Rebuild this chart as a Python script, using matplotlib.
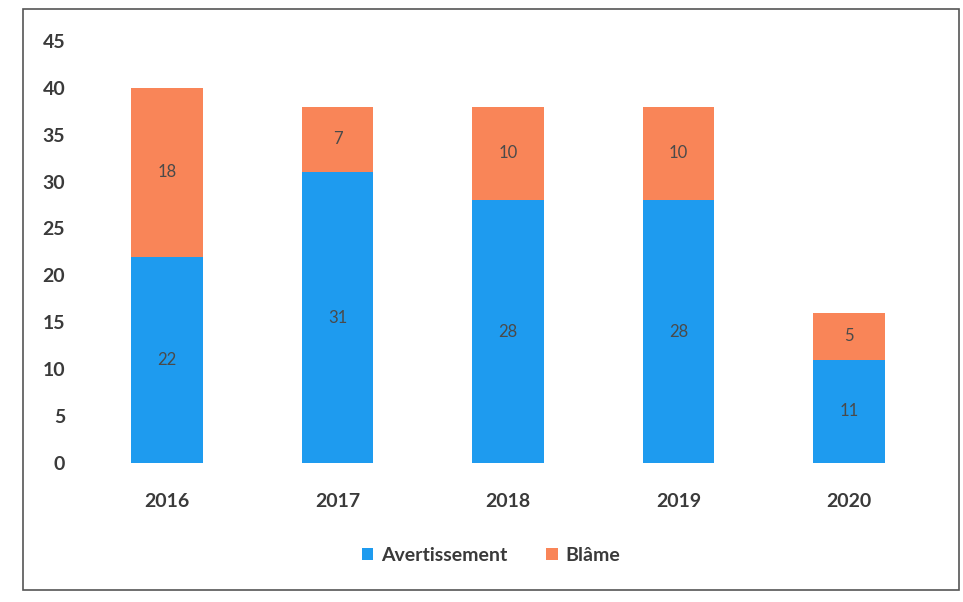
import matplotlib
matplotlib.use("Agg")
import matplotlib.pyplot as plt
from matplotlib.patches import Rectangle

years = ["2016", "2017", "2018", "2019", "2020"]
avertissement = [22, 31, 28, 28, 11]
blame = [18, 7, 10, 10, 5]
yticks = [0, 5, 10, 15, 20, 25, 30, 35, 40, 45]

blue = "#1E9BEF"
orange = "#F98558"
txt = "#3A3A3A"

plt.rcParams['font.family'] = ['Lato', 'DejaVu Sans']

fig = plt.figure(figsize=(9.63, 6.02), dpi=100)
fig.patches.append(Rectangle((0.024, 0.02), 0.972, 0.965, transform=fig.transFigure,
                             fill=False, edgecolor="#555555", linewidth=1.2))
ax = fig.add_axes([0.085, 0.231, 0.885, 0.701])

x = list(range(len(years)))
b1 = ax.bar(x, avertissement, width=0.42, color=blue, label="Avertissement")
b2 = ax.bar(x, blame, width=0.42, bottom=avertissement, color=orange, label="Blâme")
for rects in (b1, b2):
    ax.bar_label(rects, label_type="center", fontsize=12, color="#4a4a4a")

ax.set_xlim(-0.5, 4.5)
ax.set_ylim(0, 45)
ax.set_yticks(yticks)
ax.set_xticks(x)
ax.set_xticklabels(years)
ax.tick_params(axis="y", length=0, labelsize=14, colors=txt, pad=12)
ax.tick_params(axis="x", length=0, labelsize=14, colors=txt, pad=22)
for lab in ax.get_xticklabels() + ax.get_yticklabels():
    lab.set_fontweight("bold")
for s in ax.spines.values():
    s.set_visible(False)

leg = fig.legend(loc="center", bbox_to_anchor=(0.51, 0.078), ncol=2, frameon=False,
                 fontsize=14, handlelength=0.6, handleheight=0.6, columnspacing=2.0,
                 handletextpad=0.4)
for t in leg.get_texts():
    t.set_color(txt)
    t.set_fontweight("bold")

fig.savefig("out.png", dpi=100)
